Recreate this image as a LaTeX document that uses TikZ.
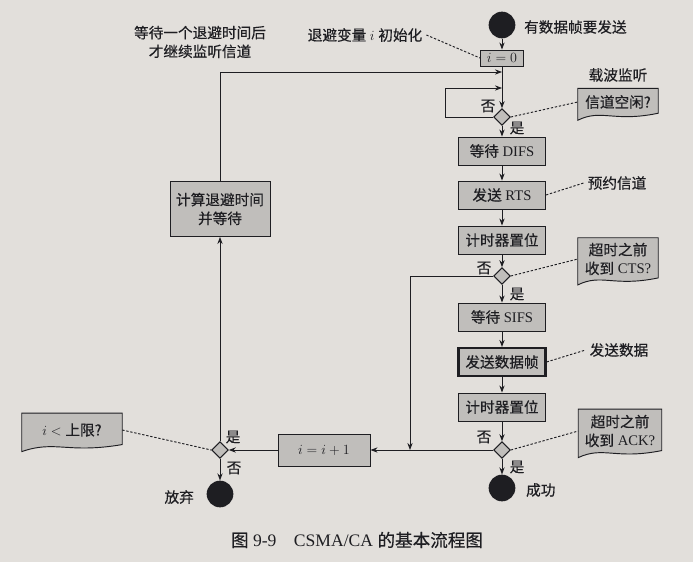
\documentclass[tikz,border=0pt]{standalone}
\usepackage{amsmath}
\usepackage{fontspec}
\setmainfont{Liberation Serif}
\newfontfamily\cjk[FakeBold=0.4]{Noto Sans CJK SC}
\usepackage{tikz}
\usetikzlibrary{shapes.geometric}
\usetikzlibrary{arrows.meta}
\usetikzlibrary{backgrounds}

\definecolor{paper}{RGB}{226,223,219}
\definecolor{boxgray}{RGB}{192,190,187}
\definecolor{ink}{RGB}{30,30,34}

\begin{document}
\begin{tikzpicture}[x=0.03cm, y=-0.03cm,
		every node/.style={font=\fontsize{12.5}{16}\selectfont, text=ink},
		stepbox/.style={draw=ink, fill=boxgray, line width=0.8pt, minimum width=2.61cm, minimum height=0.84cm, inner sep=1pt},
		decide/.style={diamond, draw=ink, fill=boxgray, line width=0.8pt, minimum size=0.5cm, inner sep=0pt},
		endpt/.style={circle, fill=ink, minimum size=0.8cm, inner sep=0pt},
		notebox/.style={draw=ink, fill=boxgray, line width=0.8pt},
		flow/.style={draw=ink, line width=0.8pt, -{Stealth[length=6pt,width=4.5pt]}},
		hint/.style={draw=ink, line width=0.8pt, dash pattern=on 2pt off 1.5pt}]
				\useasboundingbox (0,0) rectangle (693,562);
				
				% Start and initialisation
				\node[endpt] (start) at (502,25) {};
				\node[anchor=west] (startlbl) at (520,27) {\cjk 有数据帧要发送};
				\node[stepbox, minimum width=1.29cm, minimum height=0.48cm] (init) at (502,58) {$i=0$};
				\node (initlbl) at (365,35) {{\cjk 退避变量} $i$ {\cjk 初始化}};
				\node[align=center] (waitlbl) at (200,42) {\cjk 等待一个退避时间后\\\cjk 才继续监听信道};
				
				% Carrier sense
				\coordinate (j1) at (502,72);
				\coordinate (j2) at (502,88);
				\coordinate (loopl) at (445,88);
				\node[decide] (idle) at (502,117) {};
				\node (idleno) at (488,106) {\cjk 否};
				\node (idleyes) at (517,128) {\cjk 是};
				\node (sense) at (618,75) {\cjk 载波监听};
				\node[minimum width=2.4cm, minimum height=0.8cm] (idlenote) at (618,102) {\cjk 信道空闲?};
				
				% RTS / CTS
				\node[stepbox] (difs) at (502,151) {{\cjk 等待} DIFS};
				\node[stepbox] (rts) at (502,195) {{\cjk 发送} RTS};
				\node (rsvlbl) at (617,183) {\cjk 预约信道};
				\node[stepbox] (tim1) at (502,240) {\cjk 计时器置位};
				\node[decide] (cts) at (502,276) {};
				\node (ctsno) at (484,268) {\cjk 否};
				\node (ctsyes) at (517,294) {\cjk 是};
				\node[minimum width=2.4cm, minimum height=1.26cm, align=center] (ctsnote) at (618,259) {\cjk 超时之前\\{\cjk 收到} CTS?};
				
				% Data / ACK
				\node[stepbox] (sifs) at (502,317) {{\cjk 等待} SIFS};
				\node[stepbox, line width=1.8pt] (data) at (502,362) {\cjk 发送数据帧};
				\node (datalbl) at (619,350) {\cjk 发送数据};
				\node[stepbox] (tim2) at (502,407) {\cjk 计时器置位};
				\node[decide] (ack) at (502,450) {};
				\node (ackno) at (484,437) {\cjk 否};
				\node (ackyes) at (517,467) {\cjk 是};
				\node[minimum width=2.49cm, minimum height=1.3cm, align=center] (acknote) at (620,431) {\cjk 超时之前\\{\cjk 收到} ACK?};
				\node[endpt] (succ) at (502,488) {};
				\node[anchor=west] (succlbl) at (522,490) {\cjk 成功};
				
				% Backoff
				\coordinate (j3) at (410,450);
				\node[stepbox, minimum width=2.76cm, minimum height=0.96cm] (inc) at (324,450) {$i=i+1$};
				\node[decide] (limit) at (220,450) {};
				\node (limityes) at (233,437) {\cjk 是};
				\node (limitno) at (234,468) {\cjk 否};
				\node[minimum width=3.0cm, minimum height=1.0cm] (limitnote) at (72,430) {$i<$ {\cjk 上限?}};
				\node[endpt] (fail) at (220,494) {};
				\node[anchor=east] (faillbl) at (198,497) {\cjk 放弃};
				\node[stepbox, minimum width=3.0cm, minimum height=1.65cm, align=center] (calc) at (220,209) {\cjk 计算退避时间\\\cjk 并等待};
				
				% Caption
				\node[font=\fontsize{15}{18}\selectfont] (caption) at (357,540) {{\cjk 图} 9-9\quad CSMA/CA {\cjk 的基本流程图}};
				
				% Connectors
				\draw[flow] (start) -- (init);
				\draw[flow] (init) -- (idle);
				\draw[flow] (calc.north) |- (j1);
				\draw[flow] (idle.west) -| (loopl) -- (j2);
				\draw[flow] (idle) -- (difs);
				\draw[flow] (difs) -- (rts);
				\draw[flow] (rts) -- (tim1);
				\draw[flow] (tim1) -- (cts);
				\draw[flow] (cts) -- (sifs);
				\draw[flow] (sifs) -- (data);
				\draw[flow] (data) -- (tim2);
				\draw[flow] (tim2) -- (ack);
				\draw[flow] (ack) -- (succ);
				\draw[flow] (cts.west) -| (j3);
				\draw[flow] (ack.west) -- (inc.east);
				\draw[flow] (inc.west) -- (limit.east);
				\draw[flow] (limit.north) -- (calc.south);
				\draw[flow] (limit.south) -- (fail.north);
				
				% Dotted remarks
				\draw[hint] (initlbl.east) -- (init.west);
				\draw[hint] (idle.east) -- (idlenote.west);
				\draw[hint] (rts.east) -- (rsvlbl.west);
				\draw[hint] (cts.east) -- (ctsnote.west);
				\draw[hint] (data.east) -- (datalbl.west);
				\draw[hint] (ack.east) -- (acknote.west);
				\draw[hint] (limitnote.east) -- (limit.west);
				
				% Paper and note shapes
				\begin{scope}[on background layer]
					\fill[paper] (0,0) rectangle (693,562);
					\foreach \n in {idlenote,ctsnote,acknote,limitnote}
						\draw[notebox] (\n.north west) -- (\n.north east) -- ([yshift=2pt]\n.south east)
							.. controls ([xshift=-4pt,yshift=-6pt]\n.south) and ([xshift=-14pt,yshift=6pt]\n.south) .. ([yshift=-4pt]\n.south west) -- cycle;
				\end{scope}
			\end{tikzpicture}
\end{document}
